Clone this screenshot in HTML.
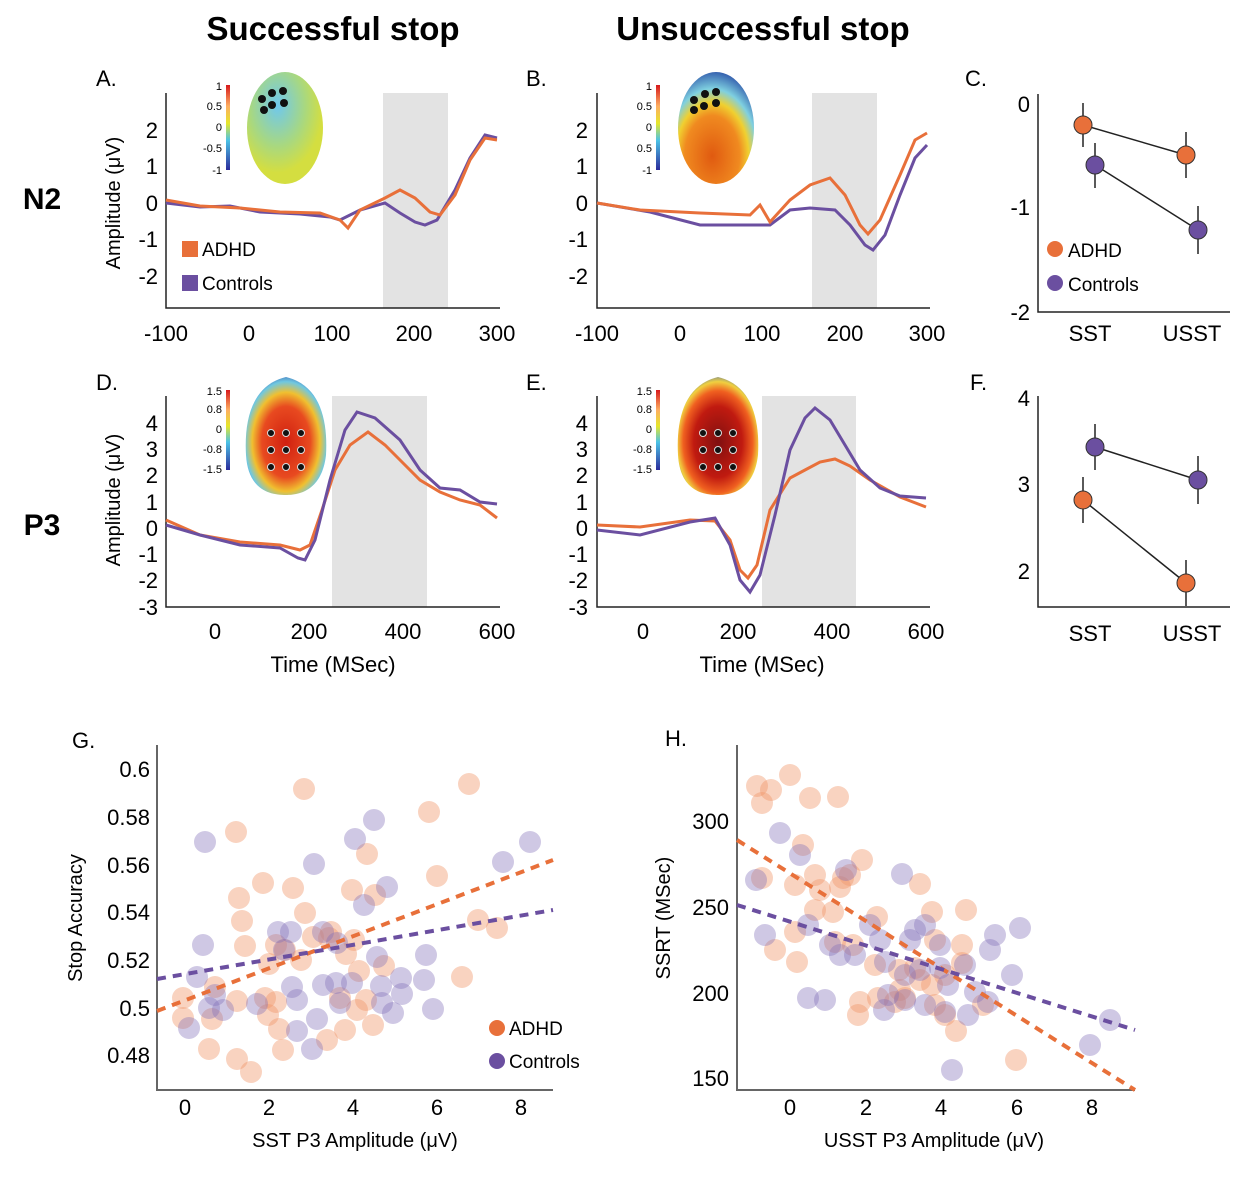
<!DOCTYPE html>
<html><head><meta charset="utf-8"><style>
body{margin:0;background:#fff}
svg{display:block;font-family:"Liberation Sans",Arial,sans-serif}
.t{font-size:22px}
.s{font-size:11px}
.ax{stroke:#222;stroke-width:1.5;fill:none}
.o{fill:none;stroke:#e8703a;stroke-width:3}
.p{fill:none;stroke:#6b4fa0;stroke-width:3}
.co{fill:rgba(240,150,105,.42)}
.cp{fill:rgba(130,110,185,.38)}
</style></head><body>
<svg width="1251" height="1186" viewBox="0 0 1251 1186">
<defs>
<linearGradient id="cb" x1="0" y1="0" x2="0" y2="1"><stop offset="0" stop-color="#d7191c"/><stop offset=".25" stop-color="#fdae61"/><stop offset=".45" stop-color="#e6e62a"/><stop offset=".65" stop-color="#4cc3e6"/><stop offset="1" stop-color="#2c2c9c"/></linearGradient>
<radialGradient id="h1" cx=".4" cy=".3" r=".6"><stop offset="0" stop-color="#6fc8ee"/><stop offset=".6" stop-color="#a8d880"/><stop offset="1" stop-color="#d4de40"/></radialGradient>
<radialGradient id="h2" cx=".45" cy=".75" r=".8"><stop offset="0" stop-color="#e05a10"/><stop offset=".45" stop-color="#f08a20"/><stop offset=".6" stop-color="#f0d030"/><stop offset=".75" stop-color="#7fd0e0"/><stop offset="1" stop-color="#2040a0"/></radialGradient>
<radialGradient id="h3" cx=".5" cy=".55" r=".6"><stop offset="0" stop-color="#d02010"/><stop offset=".5" stop-color="#e84a20"/><stop offset=".7" stop-color="#f0c030"/><stop offset=".85" stop-color="#70c8e0"/><stop offset="1" stop-color="#3050b0"/></radialGradient>
<radialGradient id="h4" cx=".5" cy=".55" r=".6"><stop offset="0" stop-color="#801010"/><stop offset=".5" stop-color="#c01a10"/><stop offset=".72" stop-color="#f06020"/><stop offset=".85" stop-color="#f0d040"/><stop offset="1" stop-color="#3060c0"/></radialGradient>
</defs>
<text x="333" y="40" text-anchor="middle" font-size="33" font-weight="bold">Successful stop</text>
<text x="763" y="40" text-anchor="middle" font-size="33" font-weight="bold">Unsuccessful stop</text>
<text x="42" y="209" text-anchor="middle" font-size="30" font-weight="bold">N2</text>
<text x="42" y="535" text-anchor="middle" font-size="30" font-weight="bold">P3</text>
<g class="t">
<text x="96" y="86">A.</text><text x="526" y="86">B.</text><text x="965" y="86">C.</text>
<text x="96" y="390">D.</text><text x="526" y="390">E.</text><text x="970" y="390">F.</text>
<text x="72" y="748">G.</text><text x="665" y="746">H.</text>
</g>

<!-- Panel A -->
<rect x="383" y="93" width="65" height="215" fill="#e3e3e3"/>
<path class="ax" d="M166 93V308H500"/>
<g class="t" text-anchor="end"><text x="158" y="138">2</text><text x="158" y="174">1</text><text x="158" y="211">0</text><text x="158" y="247">-1</text><text x="158" y="284">-2</text></g>
<g class="t" text-anchor="middle"><text x="166" y="341">-100</text><text x="249" y="341">0</text><text x="332" y="341">100</text><text x="414" y="341">200</text><text x="497" y="341">300</text></g>
<text transform="translate(120,203) rotate(-90)" font-size="20" text-anchor="middle">Amplitude  (μV)</text>
<polyline class="p" points="166,203 200,207 230,206 260,212 300,214 330,217 340,220 360,210 385,203 400,213 415,222 425,225 437,220 455,190 470,158 485,135 497,138"/>
<polyline class="o" points="166,200 200,206 240,208 280,212 320,213 340,220 348,228 360,210 385,198 400,190 415,198 430,212 440,215 455,195 470,160 485,138 497,140"/>
<rect x="182" y="241" width="16" height="16" fill="#e8703a"/><text x="202" y="256" font-size="19">ADHD</text>
<rect x="182" y="275" width="16" height="16" fill="#6b4fa0"/><text x="202" y="290" font-size="19">Controls</text>
<rect x="226" y="85" width="4" height="85" fill="url(#cb)"/>
<g class="s" text-anchor="end"><text x="222" y="90">1</text><text x="222" y="110">0.5</text><text x="222" y="131">0</text><text x="222" y="152">-0.5</text><text x="222" y="174">-1</text></g>
<ellipse cx="285" cy="128" rx="38" ry="56" fill="url(#h1)"/>
<g fill="#111"><circle cx="262" cy="99" r="4"/><circle cx="272" cy="93" r="4"/><circle cx="283" cy="91" r="4"/><circle cx="264" cy="110" r="4"/><circle cx="272" cy="105" r="4"/><circle cx="284" cy="103" r="4"/></g>

<!-- Panel B -->
<rect x="812" y="93" width="65" height="215" fill="#e3e3e3"/>
<path class="ax" d="M597 93V308H930"/>
<g class="t" text-anchor="end"><text x="588" y="138">2</text><text x="588" y="174">1</text><text x="588" y="211">0</text><text x="588" y="247">-1</text><text x="588" y="284">-2</text></g>
<g class="t" text-anchor="middle"><text x="597" y="341">-100</text><text x="680" y="341">0</text><text x="762" y="341">100</text><text x="845" y="341">200</text><text x="927" y="341">300</text></g>
<polyline class="p" points="597,203 650,212 700,225 740,225 770,225 790,210 810,208 835,210 850,225 865,245 873,250 885,235 900,195 915,158 927,145"/>
<polyline class="o" points="597,203 640,210 700,213 750,215 760,205 770,222 790,200 810,185 830,178 845,195 860,225 868,234 880,220 900,175 915,140 927,133"/>
<rect x="656" y="85" width="4" height="85" fill="url(#cb)"/>
<g class="s" text-anchor="end"><text x="652" y="90">1</text><text x="652" y="110">0.5</text><text x="652" y="131">0</text><text x="652" y="152">0.5</text><text x="652" y="174">-1</text></g>
<ellipse cx="716" cy="128" rx="38" ry="56" fill="url(#h2)"/>
<g fill="#111"><circle cx="694" cy="100" r="4"/><circle cx="705" cy="94" r="4"/><circle cx="716" cy="92" r="4"/><circle cx="694" cy="110" r="4"/><circle cx="704" cy="106" r="4"/><circle cx="716" cy="103" r="4"/></g>

<!-- Panel C -->
<path class="ax" d="M1038 94V312H1230"/>
<g class="t" text-anchor="end"><text x="1030" y="112">0</text><text x="1030" y="215">-1</text><text x="1030" y="320">-2</text></g>
<g class="t" text-anchor="middle"><text x="1090" y="341">SST</text><text x="1192" y="341">USST</text></g>
<g stroke="#222" stroke-width="1.5"><line x1="1083" y1="103" x2="1083" y2="147"/><line x1="1186" y1="132" x2="1186" y2="178"/><line x1="1095" y1="143" x2="1095" y2="188"/><line x1="1198" y1="206" x2="1198" y2="254"/><line x1="1083" y1="125" x2="1186" y2="155"/><line x1="1095" y1="165" x2="1198" y2="230"/></g>
<g stroke="#333"><circle cx="1083" cy="125" r="9" fill="#e8703a"/><circle cx="1186" cy="155" r="9" fill="#e8703a"/><circle cx="1095" cy="165" r="9" fill="#6b4fa0"/><circle cx="1198" cy="230" r="9" fill="#6b4fa0"/></g>
<circle cx="1055" cy="249" r="8" fill="#e8703a"/><text x="1068" y="257" font-size="19">ADHD</text>
<circle cx="1055" cy="283" r="8" fill="#6b4fa0"/><text x="1068" y="291" font-size="19">Controls</text>

<!-- Panel D -->
<rect x="332" y="396" width="95" height="211" fill="#e3e3e3"/>
<path class="ax" d="M166 396V607H500"/>
<g class="t" text-anchor="end"><text x="158" y="431">4</text><text x="158" y="457">3</text><text x="158" y="483">2</text><text x="158" y="510">1</text><text x="158" y="536">0</text><text x="158" y="562">-1</text><text x="158" y="588">-2</text><text x="158" y="615">-3</text></g>
<g class="t" text-anchor="middle"><text x="215" y="639">0</text><text x="309" y="639">200</text><text x="403" y="639">400</text><text x="497" y="639">600</text></g>
<text x="333" y="672" text-anchor="middle" font-size="22">Time (MSec)</text>
<text transform="translate(120,500) rotate(-90)" font-size="20" text-anchor="middle">Amplitude  (μV)</text>
<polyline class="o" points="166,520 200,535 240,542 280,545 300,550 310,545 322,510 335,470 350,445 368,432 385,445 400,460 420,480 440,492 460,500 480,505 497,518"/>
<polyline class="p" points="166,525 200,535 240,545 280,548 298,558 305,560 315,540 330,480 345,430 357,412 375,418 400,440 420,470 440,488 460,490 480,502 497,504"/>
<rect x="226" y="390" width="4" height="80" fill="url(#cb)"/>
<g class="s" text-anchor="end"><text x="222" y="395">1.5</text><text x="222" y="413">0.8</text><text x="222" y="433">0</text><text x="222" y="453">-0.8</text><text x="222" y="473">-1.5</text></g>
<path d="M286 377 C320 385 328 420 326 455 C322 490 300 495 286 495 C270 495 248 490 246 455 C244 420 252 385 286 377Z" fill="url(#h3)"/>
<g fill="#111" stroke="#ddd"><circle cx="271" cy="433" r="3.5"/><circle cx="286" cy="433" r="3.5"/><circle cx="301" cy="433" r="3.5"/><circle cx="271" cy="450" r="3.5"/><circle cx="286" cy="450" r="3.5"/><circle cx="301" cy="450" r="3.5"/><circle cx="271" cy="467" r="3.5"/><circle cx="286" cy="467" r="3.5"/><circle cx="301" cy="467" r="3.5"/></g>

<!-- Panel E -->
<rect x="762" y="396" width="94" height="211" fill="#e3e3e3"/>
<path class="ax" d="M597 396V607H930"/>
<g class="t" text-anchor="end"><text x="588" y="431">4</text><text x="588" y="457">3</text><text x="588" y="483">2</text><text x="588" y="510">1</text><text x="588" y="536">0</text><text x="588" y="562">-1</text><text x="588" y="588">-2</text><text x="588" y="615">-3</text></g>
<g class="t" text-anchor="middle"><text x="643" y="639">0</text><text x="738" y="639">200</text><text x="832" y="639">400</text><text x="926" y="639">600</text></g>
<text x="762" y="672" text-anchor="middle" font-size="22">Time (MSec)</text>
<polyline class="o" points="597,525 640,527 690,520 715,521 730,540 740,570 748,578 757,565 770,510 790,478 805,470 820,462 835,459 850,466 870,480 900,497 926,507"/>
<polyline class="p" points="597,530 640,535 690,522 715,518 730,545 740,580 750,592 760,575 775,515 790,450 805,418 815,408 830,420 845,445 860,470 880,488 900,496 926,498"/>
<rect x="656" y="390" width="4" height="80" fill="url(#cb)"/>
<g class="s" text-anchor="end"><text x="652" y="395">1.5</text><text x="652" y="413">0.8</text><text x="652" y="433">0</text><text x="652" y="453">-0.8</text><text x="652" y="473">-1.5</text></g>
<path d="M718 377 C752 385 760 420 758 455 C754 490 732 495 718 495 C702 495 680 490 678 455 C676 420 684 385 718 377Z" fill="url(#h4)"/>
<g fill="#111" stroke="#ddd"><circle cx="703" cy="433" r="3.5"/><circle cx="718" cy="433" r="3.5"/><circle cx="733" cy="433" r="3.5"/><circle cx="703" cy="450" r="3.5"/><circle cx="718" cy="450" r="3.5"/><circle cx="733" cy="450" r="3.5"/><circle cx="703" cy="467" r="3.5"/><circle cx="718" cy="467" r="3.5"/><circle cx="733" cy="467" r="3.5"/></g>

<!-- Panel F -->
<path class="ax" d="M1038 396V607H1230"/>
<g class="t" text-anchor="end"><text x="1030" y="406">4</text><text x="1030" y="492">3</text><text x="1030" y="579">2</text></g>
<g class="t" text-anchor="middle"><text x="1090" y="641">SST</text><text x="1192" y="641">USST</text></g>
<g stroke="#222" stroke-width="1.5"><line x1="1083" y1="477" x2="1083" y2="523"/><line x1="1186" y1="560" x2="1186" y2="606"/><line x1="1095" y1="424" x2="1095" y2="470"/><line x1="1198" y1="456" x2="1198" y2="504"/><line x1="1083" y1="500" x2="1186" y2="583"/><line x1="1095" y1="447" x2="1198" y2="480"/></g>
<g stroke="#333"><circle cx="1083" cy="500" r="9" fill="#e8703a"/><circle cx="1186" cy="583" r="9" fill="#e8703a"/><circle cx="1095" cy="447" r="9" fill="#6b4fa0"/><circle cx="1198" cy="480" r="9" fill="#6b4fa0"/></g>

<!-- Panel G -->
<path d="M157 745V1090H553" fill="none" stroke="#666" stroke-width="2"/>
<g class="t" text-anchor="end"><text x="150" y="777">0.6</text><text x="150" y="825">0.58</text><text x="150" y="873">0.56</text><text x="150" y="920">0.54</text><text x="150" y="968">0.52</text><text x="150" y="1016">0.5</text><text x="150" y="1063">0.48</text></g>
<g class="t" text-anchor="middle"><text x="185" y="1115">0</text><text x="269" y="1115">2</text><text x="353" y="1115">4</text><text x="437" y="1115">6</text><text x="521" y="1115">8</text></g>
<text x="355" y="1147" text-anchor="middle" font-size="20">SST P3 Amplitude  (μV)</text>
<text transform="translate(82,918) rotate(-90)" font-size="20" text-anchor="middle">Stop Accuracy</text>
<g class="co">
<circle cx="304" cy="789" r="11"/><circle cx="469" cy="784" r="11"/><circle cx="429" cy="812" r="11"/><circle cx="236" cy="832" r="11"/><circle cx="367" cy="854" r="11"/><circle cx="437" cy="876" r="11"/><circle cx="263" cy="883" r="11"/><circle cx="293" cy="888" r="11"/><circle cx="239" cy="898" r="11"/><circle cx="352" cy="890" r="11"/><circle cx="375" cy="895" r="11"/><circle cx="242" cy="921" r="11"/><circle cx="305" cy="913" r="11"/><circle cx="245" cy="946" r="11"/><circle cx="331" cy="932" r="11"/><circle cx="276" cy="945" r="11"/><circle cx="313" cy="937" r="11"/><circle cx="285" cy="950" r="11"/><circle cx="329" cy="938" r="11"/><circle cx="354" cy="940" r="11"/><circle cx="269" cy="964" r="11"/><circle cx="301" cy="960" r="11"/><circle cx="346" cy="954" r="11"/><circle cx="359" cy="971" r="11"/><circle cx="384" cy="966" r="11"/><circle cx="462" cy="977" r="11"/><circle cx="183" cy="998" r="11"/><circle cx="183" cy="1018" r="11"/><circle cx="212" cy="1019" r="11"/><circle cx="237" cy="1001" r="11"/><circle cx="265" cy="998" r="11"/><circle cx="276" cy="1002" r="11"/><circle cx="268" cy="1015" r="11"/><circle cx="340" cy="998" r="11"/><circle cx="366" cy="1000" r="11"/><circle cx="357" cy="1010" r="11"/><circle cx="209" cy="1049" r="11"/><circle cx="237" cy="1059" r="11"/><circle cx="251" cy="1072" r="11"/><circle cx="279" cy="1029" r="11"/><circle cx="283" cy="1050" r="11"/><circle cx="327" cy="1040" r="11"/><circle cx="345" cy="1030" r="11"/><circle cx="478" cy="920" r="11"/><circle cx="497" cy="928" r="11"/><circle cx="373" cy="1025" r="11"/><circle cx="215" cy="987" r="11"/>
</g>
<g class="cp">
<circle cx="205" cy="842" r="11"/><circle cx="355" cy="839" r="11"/><circle cx="374" cy="820" r="11"/><circle cx="530" cy="842" r="11"/><circle cx="503" cy="862" r="11"/><circle cx="314" cy="864" r="11"/><circle cx="387" cy="887" r="11"/><circle cx="364" cy="905" r="11"/><circle cx="203" cy="945" r="11"/><circle cx="278" cy="932" r="11"/><circle cx="284" cy="950" r="11"/><circle cx="291" cy="932" r="11"/><circle cx="323" cy="932" r="11"/><circle cx="337" cy="943" r="11"/><circle cx="426" cy="955" r="11"/><circle cx="377" cy="957" r="11"/><circle cx="197" cy="977" r="11"/><circle cx="215" cy="995" r="11"/><circle cx="292" cy="987" r="11"/><circle cx="323" cy="985" r="11"/><circle cx="336" cy="983" r="11"/><circle cx="352" cy="983" r="11"/><circle cx="381" cy="986" r="11"/><circle cx="401" cy="978" r="11"/><circle cx="424" cy="980" r="11"/><circle cx="209" cy="1008" r="11"/><circle cx="189" cy="1028" r="11"/><circle cx="297" cy="1000" r="11"/><circle cx="257" cy="1004" r="11"/><circle cx="340" cy="1003" r="11"/><circle cx="382" cy="1003" r="11"/><circle cx="402" cy="994" r="11"/><circle cx="433" cy="1009" r="11"/><circle cx="393" cy="1013" r="11"/><circle cx="317" cy="1019" r="11"/><circle cx="312" cy="1049" r="11"/><circle cx="297" cy="1031" r="11"/><circle cx="223" cy="1010" r="11"/>
</g>
<line x1="157" y1="1011" x2="553" y2="860" stroke="#e8703a" stroke-width="4" stroke-dasharray="9,7"/>
<line x1="157" y1="979" x2="553" y2="910" stroke="#6b4fa0" stroke-width="4" stroke-dasharray="9,7"/>
<circle cx="497" cy="1028" r="8" fill="#e8703a"/><text x="509" y="1035" font-size="19">ADHD</text>
<circle cx="497" cy="1061" r="8" fill="#6b4fa0"/><text x="509" y="1068" font-size="19">Controls</text>

<!-- Panel H -->
<path d="M737 745V1090H1135" fill="none" stroke="#666" stroke-width="2"/>
<g class="t" text-anchor="end"><text x="729" y="829">300</text><text x="729" y="915">250</text><text x="729" y="1001">200</text><text x="729" y="1086">150</text></g>
<g class="t" text-anchor="middle"><text x="790" y="1115">0</text><text x="866" y="1115">2</text><text x="941" y="1115">4</text><text x="1017" y="1115">6</text><text x="1092" y="1115">8</text></g>
<text x="934" y="1147" text-anchor="middle" font-size="20">USST P3 Amplitude  (μV)</text>
<text transform="translate(670,918) rotate(-90)" font-size="20" text-anchor="middle">SSRT (MSec)</text>
<g class="co">
<circle cx="757" cy="786" r="11"/><circle cx="790" cy="775" r="11"/><circle cx="771" cy="790" r="11"/><circle cx="810" cy="798" r="11"/><circle cx="762" cy="803" r="11"/><circle cx="838" cy="797" r="11"/><circle cx="803" cy="845" r="11"/><circle cx="762" cy="878" r="11"/><circle cx="795" cy="885" r="11"/><circle cx="815" cy="875" r="11"/><circle cx="850" cy="875" r="11"/><circle cx="820" cy="890" r="11"/><circle cx="840" cy="887" r="11"/><circle cx="815" cy="910" r="11"/><circle cx="833" cy="912" r="11"/><circle cx="862" cy="860" r="11"/><circle cx="877" cy="917" r="11"/><circle cx="920" cy="884" r="11"/><circle cx="966" cy="910" r="11"/><circle cx="932" cy="912" r="11"/><circle cx="775" cy="950" r="11"/><circle cx="795" cy="932" r="11"/><circle cx="797" cy="962" r="11"/><circle cx="835" cy="942" r="11"/><circle cx="853" cy="945" r="11"/><circle cx="875" cy="965" r="11"/><circle cx="899" cy="970" r="11"/><circle cx="915" cy="968" r="11"/><circle cx="920" cy="980" r="11"/><circle cx="932" cy="985" r="11"/><circle cx="945" cy="975" r="11"/><circle cx="962" cy="945" r="11"/><circle cx="900" cy="990" r="11"/><circle cx="878" cy="998" r="11"/><circle cx="860" cy="1002" r="11"/><circle cx="858" cy="1015" r="11"/><circle cx="895" cy="1002" r="11"/><circle cx="905" cy="998" r="11"/><circle cx="935" cy="1005" r="11"/><circle cx="945" cy="1015" r="11"/><circle cx="956" cy="1031" r="11"/><circle cx="983" cy="1005" r="11"/><circle cx="1016" cy="1060" r="11"/><circle cx="935" cy="940" r="11"/><circle cx="962" cy="963" r="11"/><circle cx="843" cy="878" r="11"/>
</g>
<g class="cp">
<circle cx="780" cy="833" r="11"/><circle cx="800" cy="855" r="11"/><circle cx="756" cy="880" r="11"/><circle cx="846" cy="870" r="11"/><circle cx="902" cy="874" r="11"/><circle cx="765" cy="935" r="11"/><circle cx="808" cy="925" r="11"/><circle cx="830" cy="945" r="11"/><circle cx="840" cy="955" r="11"/><circle cx="870" cy="925" r="11"/><circle cx="880" cy="940" r="11"/><circle cx="910" cy="940" r="11"/><circle cx="915" cy="930" r="11"/><circle cx="925" cy="925" r="11"/><circle cx="940" cy="945" r="11"/><circle cx="965" cy="965" r="11"/><circle cx="885" cy="962" r="11"/><circle cx="905" cy="975" r="11"/><circle cx="920" cy="970" r="11"/><circle cx="940" cy="968" r="11"/><circle cx="990" cy="950" r="11"/><circle cx="995" cy="935" r="11"/><circle cx="1020" cy="928" r="11"/><circle cx="1012" cy="975" r="11"/><circle cx="808" cy="998" r="11"/><circle cx="825" cy="1000" r="11"/><circle cx="884" cy="1010" r="11"/><circle cx="888" cy="995" r="11"/><circle cx="905" cy="1000" r="11"/><circle cx="925" cy="1005" r="11"/><circle cx="945" cy="1012" r="11"/><circle cx="968" cy="1015" r="11"/><circle cx="988" cy="1002" r="11"/><circle cx="952" cy="1070" r="11"/><circle cx="1090" cy="1045" r="11"/><circle cx="1110" cy="1020" r="11"/><circle cx="948" cy="985" r="11"/><circle cx="975" cy="992" r="11"/><circle cx="855" cy="955" r="11"/>
</g>
<line x1="737" y1="840" x2="1135" y2="1090" stroke="#e8703a" stroke-width="4" stroke-dasharray="9,7"/>
<line x1="737" y1="905" x2="1135" y2="1030" stroke="#6b4fa0" stroke-width="4" stroke-dasharray="9,7"/>
</svg>
</body></html>
